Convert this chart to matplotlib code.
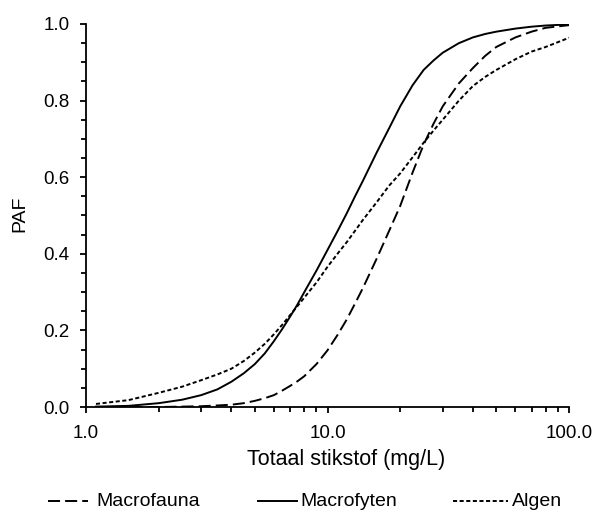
import matplotlib
matplotlib.use("Agg")
import matplotlib.pyplot as plt
from matplotlib.lines import Line2D
from matplotlib.ticker import FixedLocator, FuncFormatter, MultipleLocator

plt.rcParams['font.family'] = ['Liberation Sans', 'DejaVu Sans']

# Concentration (mg/L)
conc = [1.1, 1.5, 2, 2.5, 3, 3.5, 4, 4.5, 5, 5.5, 6, 6.5, 7, 7.5, 8, 9, 10, 11, 12, 13, 14, 16, 18,
        20, 22.5, 25, 27.5, 30, 35, 40, 45, 50, 60, 70, 80, 100]

macrofauna = [0.000, 0.000, 0.000, 0.001, 0.002, 0.004, 0.006, 0.010, 0.016, 0.023, 0.031, 0.043,
              0.055, 0.067, 0.080, 0.112, 0.148, 0.188, 0.228, 0.270, 0.310, 0.388, 0.460,
              0.525, 0.612, 0.685, 0.740, 0.785, 0.845, 0.885, 0.917, 0.940, 0.965,
              0.980, 0.990, 0.997]
macrofyten = [0.001, 0.003, 0.010, 0.019, 0.031, 0.046, 0.066, 0.088, 0.112, 0.140, 0.172, 0.204,
              0.236, 0.267, 0.299, 0.356, 0.410, 0.459, 0.505, 0.550, 0.590, 0.665, 0.728,
              0.785, 0.840, 0.880, 0.905, 0.925, 0.950, 0.965, 0.974, 0.980, 0.988,
              0.993, 0.996, 0.999]
algen = [0.008, 0.018, 0.037, 0.053, 0.070, 0.085, 0.100, 0.120, 0.142, 0.165, 0.190, 0.215,
         0.240, 0.263, 0.285, 0.325, 0.366, 0.400, 0.430, 0.460, 0.488, 0.535, 0.578,
         0.610, 0.652, 0.690, 0.722, 0.750, 0.800, 0.838, 0.862, 0.880, 0.908,
         0.928, 0.940, 0.964]

series_names = ["Macrofauna", "Macrofyten", "Algen"]
x_ticks = [1, 10, 100]
x_ticklabels = ["1.0", "10.0", "100.0"]
y_ticks = [0.0, 0.2, 0.4, 0.6, 0.8, 1.0]

W, H = 597, 511
fig = plt.figure(figsize=(W / 100, H / 100), dpi=100)
ax = fig.add_axes([86 / W, 1 - 407 / H, (569 - 86) / W, (407 - 24) / H])

lw = 1.4
styles = [dict(dashes=(6.2, 2.6)), dict(), dict(dashes=(2.1, 1.3))]
for vals, st in zip([macrofauna, macrofyten, algen], styles):
    ax.plot(conc, vals, color='black', lw=lw, **st)

ax.set_xscale('log')
ax.set_xlim(1, 100)
ax.set_ylim(0, 1)
ax.xaxis.set_major_locator(FixedLocator(x_ticks))
ax.xaxis.set_major_formatter(FuncFormatter(
    lambda v, p: x_ticklabels[x_ticks.index(round(v))] if round(v) in x_ticks else ""))
ax.xaxis.set_minor_locator(FixedLocator([2, 3, 4, 5, 6, 7, 8, 9, 20, 30, 40, 50, 60, 70, 80, 90]))
ax.xaxis.set_minor_formatter(FuncFormatter(lambda v, p: ""))
ax.yaxis.set_major_locator(FixedLocator(y_ticks))
ax.yaxis.set_major_formatter(FuncFormatter(lambda v, p: f"{v:.1f}"))
ax.yaxis.set_minor_locator(MultipleLocator(0.05))

for s in ['top', 'right']:
    ax.spines[s].set_visible(False)
for s in ['left', 'bottom']:
    ax.spines[s].set_linewidth(1.3)
    ax.spines[s].set_color('black')

ax.tick_params(which='major', direction='out', length=4, width=1.3, labelsize=13.5, pad=8, colors='black')
ax.tick_params(which='minor', direction='out', length=3.5, width=1.3)
ax.tick_params(axis='x', which='major', pad=9)

fig.text(19.5 / W, 1 - 214 / H, "PAF", rotation=90, ha='center', va='center', fontsize=14)
fig.text(346 / W, 1 - 460 / H, "Totaal stikstof (mg/L)", ha='center', va='center', fontsize=15.5)

# Legend drawn manually to match the spacing of the reference
leg_y = 1 - 501 / H
handle_px = [(48, 88), (258, 297), (453, 508)]
text_px = [96, 300, 512]
for (x0, x1), tx, name, st in zip(handle_px, text_px, series_names, styles):
    fig.add_artist(Line2D([x0 / W, x1 / W], [leg_y, leg_y], transform=fig.transFigure,
                          color='black', lw=lw, **st))
    fig.text(tx / W, leg_y, name, ha='left', va='center', fontsize=14)

fig.savefig("out.png", dpi=100)
